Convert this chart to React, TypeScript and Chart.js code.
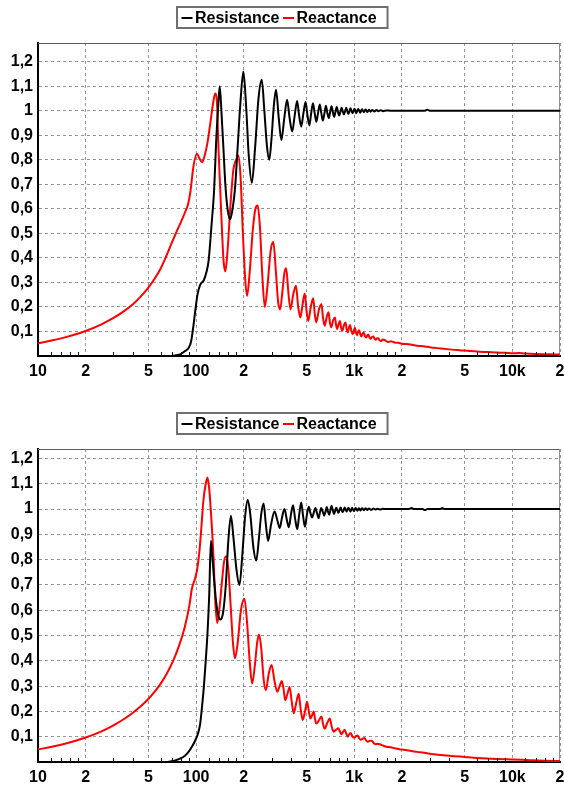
import React, { useEffect, useRef } from 'react';
import { Chart, registerables } from 'chart.js';

Chart.register(...registerables);

const FONT = '"Liberation Sans", Arial, Helvetica, sans-serif';

const seriesNames = ['Resistance', 'Reactance'];
const seriesColors = ['#000000', '#ff0000'];

const yTicks = [0.1, 0.2, 0.3, 0.4, 0.5, 0.6, 0.7, 0.8, 0.9, 1.0, 1.1, 1.2];
const yTickLabels = ['0,1', '0,2', '0,3', '0,4', '0,5', '0,6', '0,7', '0,8', '0,9', '1', '1,1', '1,2'];
const xTickValues = [10, 20, 50, 100, 200, 500, 1000, 2000, 5000, 10000, 20000];
const xTickLabels = ['10', '2', '5', '100', '2', '5', '1k', '2', '5', '10k', '2'];
const xMinorTicks = [
  12, 14, 16, 18, 30, 40, 60, 70, 80, 90,
  120, 140, 160, 180, 300, 400, 600, 700, 800, 900,
  1200, 1400, 1600, 1800, 3000, 4000, 6000, 7000, 8000, 9000,
  12000, 14000, 16000, 18000,
];

// ---------- Panel 1 ----------
const p1ResFreq = [70, 75, 80, 85, 90, 93, 96, 99, 102, 106, 112, 116, 120, 125, 130, 134, 138, 141, 145, 149, 153, 158, 164, 170, 176, 183, 190, 199, 207, 215, 225, 236, 248, 260, 270, 280, 290, 300, 310, 320, 333, 346, 361, 376, 390, 405, 420, 435, 448, 462, 477, 492, 506, 520, 534, 548, 562, 576, 590, 605, 619, 633, 648, 662, 676, 690, 704, 718, 732, 746, 760, 775, 789, 803, 818, 832, 846, 860, 875, 890, 904, 918, 932, 946, 960, 975, 989, 1003, 1017, 1030, 1045, 1060, 1075, 1090, 1105, 1120, 1135, 1150, 1165, 1180, 1195, 1210, 1225, 1240, 1270, 1300, 1340, 1380, 1420, 1470, 1520, 1600, 1700, 2000, 2800, 2900, 3000, 20000];
const p1ResVal = [0, 0.003, 0.008, 0.02, 0.035, 0.06, 0.12, 0.19, 0.25, 0.29, 0.31, 0.34, 0.39, 0.53, 0.68, 0.88, 1.02, 1.1, 0.98, 0.84, 0.7, 0.6, 0.557, 0.6, 0.68, 0.85, 1.02, 1.16, 1.02, 0.82, 0.706, 0.85, 1.05, 1.126, 1.0, 0.86, 0.8, 0.89, 1.02, 1.085, 0.97, 0.88, 0.97, 1.045, 0.97, 0.915, 0.98, 1.04, 0.98, 0.935, 0.99, 1.035, 0.98, 0.94, 0.99, 1.03, 0.99, 0.955, 0.99, 1.025, 0.99, 0.96, 0.99, 1.02, 0.99, 0.97, 0.995, 1.018, 0.995, 0.975, 0.995, 1.015, 0.995, 0.98, 0.997, 1.012, 0.997, 0.985, 0.998, 1.012, 0.998, 0.987, 0.998, 1.01, 0.999, 0.99, 0.999, 1.008, 0.999, 0.99, 1.0, 1.007, 1.0, 0.992, 1.0, 1.006, 1.0, 0.994, 1.0, 1.005, 1.0, 0.995, 1.0, 1.004, 0.996, 1.003, 0.997, 1.003, 0.998, 1.002, 0.998, 1.001, 1.0, 1.0, 1.0, 1.004, 1.0, 1.0];

const p1ReaFreq = [10, 12, 15, 20, 25, 30, 35, 40, 45, 50, 55, 60, 65, 70, 75, 80, 85, 89, 92, 96, 101, 105, 109, 113, 118, 123, 128, 132, 135, 138, 142, 146, 149, 153, 158, 165, 172, 179, 185, 191, 197, 204, 210, 218, 228, 237, 245, 253, 262, 272, 283, 296, 308, 319, 330, 340, 352, 362, 371, 383, 395, 411, 428, 442, 456, 471, 486, 500, 512, 531, 550, 563, 575, 598, 620, 636, 650, 670, 688, 702, 715, 735, 755, 768, 780, 796, 812, 826, 840, 860, 880, 895, 910, 925, 940, 960, 980, 995, 1010, 1025, 1040, 1058, 1075, 1092, 1110, 1130, 1150, 1170, 1190, 1210, 1230, 1250, 1270, 1295, 1320, 1345, 1370, 1395, 1420, 1450, 1480, 1515, 1550, 1600, 1650, 1700, 1800, 1900, 2000, 2200, 2500, 2800, 3000, 3500, 4000, 4500, 5000, 6000, 7000, 8000, 9000, 10000, 11000, 12000, 14000, 17000, 20000];
const p1ReaVal = [0.052, 0.062, 0.077, 0.102, 0.128, 0.155, 0.183, 0.212, 0.245, 0.28, 0.318, 0.36, 0.41, 0.46, 0.505, 0.545, 0.585, 0.62, 0.67, 0.77, 0.825, 0.805, 0.79, 0.815, 0.87, 0.95, 1.03, 1.07, 1.05, 0.87, 0.68, 0.5, 0.39, 0.345, 0.43, 0.62, 0.76, 0.8, 0.817, 0.73, 0.52, 0.32, 0.245, 0.34, 0.51, 0.6, 0.614, 0.53, 0.33, 0.2, 0.29, 0.43, 0.465, 0.35, 0.22, 0.19, 0.27, 0.34, 0.358, 0.26, 0.19, 0.25, 0.286, 0.2, 0.157, 0.21, 0.255, 0.18, 0.143, 0.2, 0.235, 0.17, 0.137, 0.19, 0.211, 0.15, 0.123, 0.16, 0.178, 0.135, 0.117, 0.145, 0.157, 0.125, 0.11, 0.13, 0.143, 0.115, 0.103, 0.125, 0.137, 0.11, 0.096, 0.115, 0.126, 0.1, 0.089, 0.105, 0.115, 0.095, 0.085, 0.1, 0.105, 0.088, 0.08, 0.092, 0.095, 0.08, 0.075, 0.085, 0.087, 0.074, 0.07, 0.078, 0.08, 0.07, 0.066, 0.072, 0.072, 0.063, 0.061, 0.067, 0.066, 0.06, 0.057, 0.06, 0.055, 0.054, 0.05, 0.048, 0.042, 0.039, 0.036, 0.031, 0.027, 0.024, 0.022, 0.018, 0.016, 0.014, 0.013, 0.011, 0.012, 0.01, 0.008, 0.007, 0.006];

// ---------- Panel 2 ----------
const p2ResFreq = [65, 72, 79, 85, 90, 95, 99, 103, 106, 109, 112, 115, 118, 121, 124, 127, 130, 134, 138, 142, 148, 154, 160, 166, 172, 180, 188, 196, 204, 212, 220, 230, 240, 250, 258, 267, 276, 285, 298, 313, 325, 338, 350, 362, 374, 386, 398, 410, 423, 436, 449, 462, 475, 488, 501, 515, 528, 541, 554, 567, 581, 595, 606, 618, 632, 645, 658, 670, 682, 695, 706, 718, 732, 745, 758, 770, 782, 794, 807, 820, 832, 845, 858, 870, 882, 895, 906, 918, 932, 945, 958, 970, 982, 995, 1008, 1020, 1032, 1045, 1058, 1070, 1082, 1095, 1108, 1120, 1135, 1150, 1165, 1180, 1195, 1210, 1225, 1240, 1280, 1320, 1360, 1400, 1450, 1520, 1600, 2200, 2300, 2400, 2700, 2800, 2900, 3500, 3600, 3700, 20000];
const p2ResVal = [0, 0.004, 0.013, 0.025, 0.042, 0.065, 0.087, 0.115, 0.15, 0.22, 0.3, 0.4, 0.51, 0.66, 0.875, 0.8, 0.72, 0.63, 0.58, 0.563, 0.59, 0.7, 0.88, 0.974, 0.89, 0.76, 0.7, 0.82, 0.97, 1.037, 0.98, 0.85, 0.797, 0.89, 0.98, 1.022, 0.94, 0.874, 0.94, 0.99, 0.96, 0.925, 0.97, 1.0, 0.96, 0.928, 0.98, 1.015, 0.96, 0.921, 0.98, 1.026, 0.97, 0.93, 0.975, 1.009, 0.985, 0.967, 0.985, 1.004, 0.985, 0.964, 0.985, 1.004, 0.99, 0.974, 0.99, 1.008, 0.99, 0.978, 0.995, 1.013, 0.995, 0.98, 0.995, 1.005, 0.995, 0.985, 0.996, 1.006, 0.996, 0.988, 0.997, 1.006, 0.997, 0.99, 0.998, 1.005, 0.998, 0.99, 0.998, 1.005, 0.998, 0.992, 0.999, 1.004, 0.999, 0.993, 0.999, 1.003, 0.999, 0.994, 1.0, 1.003, 1.0, 0.995, 1.0, 1.003, 1.0, 0.996, 1.0, 1.002, 0.997, 1.002, 0.998, 1.001, 0.998, 1.001, 1.0, 1.0, 1.004, 1.0, 1.0, 0.996, 1.0, 1.0, 1.004, 1.0, 1.0];

const p2ReaFreq = [10, 12, 15, 20, 25, 30, 35, 40, 45, 50, 55, 60, 65, 72, 78, 85, 91, 94, 99, 102, 105, 108, 111, 115, 118, 121, 124, 129, 132, 136, 140, 146, 150, 155, 160, 166, 171, 176, 183, 192, 202, 210, 218, 226, 235, 243, 250, 258, 267, 276, 288, 300, 313, 326, 337, 348, 357, 366, 378, 390, 402, 414, 430, 445, 458, 472, 488, 503, 516, 528, 541, 554, 565, 575, 598, 620, 635, 650, 675, 700, 720, 740, 768, 795, 812, 830, 850, 870, 890, 910, 930, 950, 975, 1000, 1025, 1050, 1075, 1100, 1130, 1160, 1190, 1220, 1255, 1290, 1325, 1360, 1400, 1450, 1520, 1600, 1700, 1800, 2000, 2500, 3000, 4000, 5000, 6000, 8000, 10000, 13000, 16000, 20000];
const p2ReaVal = [0.05, 0.059, 0.073, 0.097, 0.12, 0.145, 0.17, 0.196, 0.222, 0.25, 0.28, 0.312, 0.348, 0.404, 0.46, 0.537, 0.625, 0.685, 0.73, 0.77, 0.836, 0.93, 1.03, 1.1, 1.125, 1.08, 0.99, 0.8, 0.64, 0.55, 0.6, 0.72, 0.79, 0.813, 0.76, 0.6, 0.47, 0.41, 0.47, 0.6, 0.645, 0.55, 0.4, 0.31, 0.38, 0.47, 0.504, 0.45, 0.33, 0.284, 0.35, 0.384, 0.32, 0.278, 0.3, 0.32, 0.29, 0.244, 0.27, 0.297, 0.24, 0.193, 0.235, 0.27, 0.21, 0.166, 0.2, 0.238, 0.2, 0.172, 0.185, 0.2, 0.17, 0.152, 0.165, 0.18, 0.15, 0.132, 0.155, 0.172, 0.14, 0.12, 0.128, 0.133, 0.12, 0.11, 0.12, 0.128, 0.112, 0.1, 0.11, 0.115, 0.1, 0.096, 0.102, 0.105, 0.093, 0.088, 0.092, 0.095, 0.085, 0.08, 0.084, 0.084, 0.076, 0.07, 0.072, 0.07, 0.065, 0.06, 0.058, 0.054, 0.049, 0.04, 0.033, 0.025, 0.02, 0.016, 0.012, 0.01, 0.007, 0.005, 0.004];

const zip = (xs: number[], ys: number[]) => xs.map((x, i) => ({ x, y: ys[i] }));

const boxLegendPlugin = {
  id: 'boxLegend',
  afterDraw(chart: any) {
    const ctx = chart.ctx as CanvasRenderingContext2D;
    const ds = chart.data.datasets;
    ctx.save();
    ctx.font = `bold 16px ${FONT}`;
    const widths = ds.map((d: any) => ctx.measureText(d.label).width);
    const padL = 4.5, mark = 11, gap = 2.5, sep = 3.5, padR = 11;
    let w = padL + padR + sep * (ds.length - 1);
    widths.forEach((tw: number) => { w += mark + gap + tw; });
    const left = Math.round(282.5 - w / 2);
    const top = 7, h = 21;
    ctx.fillStyle = '#ffffff';
    ctx.fillRect(left, top, w, h);
    ctx.strokeStyle = '#707070';
    ctx.lineWidth = 2;
    ctx.strokeRect(left, top, w, h);
    let x = left + padL;
    ds.forEach((d: any, i: number) => {
      ctx.strokeStyle = d.borderColor;
      ctx.lineWidth = 2;
      ctx.beginPath();
      ctx.moveTo(x, 18);
      ctx.lineTo(x + mark, 18);
      ctx.stroke();
      x += mark + gap;
      ctx.fillStyle = '#000000';
      ctx.textAlign = 'left';
      ctx.textBaseline = 'middle';
      ctx.fillText(d.label, x, 18.5);
      x += widths[i] + sep;
    });
    ctx.restore();
  },
};

const framePlugin = {
  id: 'frame',
  beforeDatasetsDraw(chart: any) {
    const { ctx, chartArea } = chart;
    ctx.save();
    ctx.lineWidth = 1;
    ctx.strokeStyle = '#606060';
    ctx.beginPath();
    ctx.moveTo(chartArea.left, Math.round(chartArea.top) + 0.5);
    ctx.lineTo(chartArea.right, Math.round(chartArea.top) + 0.5);
    ctx.stroke();
    ctx.strokeStyle = '#909090';
    ctx.beginPath();
    ctx.moveTo(Math.round(chartArea.right) - 0.5, chartArea.top);
    ctx.lineTo(Math.round(chartArea.right) - 0.5, chartArea.bottom);
    ctx.stroke();
    ctx.restore();
  },
  afterDraw(chart: any) {
    const { ctx, chartArea } = chart;
    const xs = chart.scales.x;
    ctx.save();
    ctx.strokeStyle = '#000000';
    ctx.lineWidth = 1;
    xMinorTicks.forEach((v) => {
      const px = Math.round(xs.getPixelForValue(v)) + 0.5;
      ctx.beginPath();
      ctx.moveTo(px, chartArea.bottom - 1);
      ctx.lineTo(px, chartArea.bottom - 4);
      ctx.stroke();
    });
    ctx.restore();
  },
};

function Panel(props: { top: number; resF: number[]; resV: number[]; reaF: number[]; reaV: number[] }) {
  const ref = useRef<HTMLCanvasElement>(null);
  useEffect(() => {
    const { resF, resV, reaF, reaV } = props;
    const yMax = 1.1 * Math.max(...resV, ...reaV);
    const tickFont = { family: FONT, size: 16, weight: 'bold' as const };
    const chart = new Chart(ref.current as HTMLCanvasElement, {
      type: 'line',
      data: {
        datasets: [
          {
            label: seriesNames[0],
            data: zip(resF, resV),
            borderColor: seriesColors[0],
            backgroundColor: seriesColors[0],
            borderWidth: 2,
            pointRadius: 0,
            cubicInterpolationMode: 'monotone',
          },
          {
            label: seriesNames[1],
            data: zip(reaF, reaV),
            borderColor: seriesColors[1],
            backgroundColor: seriesColors[1],
            borderWidth: 2,
            pointRadius: 0,
            cubicInterpolationMode: 'monotone',
          },
        ],
      },
      options: {
        responsive: false,
        animation: false,
        devicePixelRatio: 1,
        events: [],
        layout: { padding: { top: 43, right: 4, left: 0, bottom: 0 } },
        plugins: {
          legend: { display: false },
          tooltip: { enabled: false },
        },
        scales: {
          x: {
            type: 'logarithmic',
            min: 10,
            max: 20000,
            afterBuildTicks: (s: any) => {
              s.ticks = xTickValues.map((v) => ({ value: v }));
            },
            afterFit: (s: any) => {
              s.height = 23;
              s.paddingLeft = 0;
              s.paddingRight = 0;
            },
            ticks: {
              autoSkip: false,
              maxRotation: 0,
              minRotation: 0,
              padding: 6,
              color: '#000000',
              font: tickFont,
              callback: (_v: any, i: number) => xTickLabels[i],
            },
            grid: { color: '#959595', lineWidth: 1, drawTicks: false },
            border: { display: true, color: '#000000', width: 2, dash: [3, 3] },
          },
          y: {
            type: 'linear',
            min: 0,
            max: yMax,
            afterBuildTicks: (s: any) => {
              s.ticks = yTicks.map((v) => ({ value: v }));
            },
            afterFit: (s: any) => {
              s.width = 38;
              s.paddingTop = 0;
              s.paddingBottom = 0;
            },
            ticks: {
              padding: 5,
              color: '#000000',
              font: tickFont,
              callback: (_v: any, i: number) => yTickLabels[i],
            },
            grid: { color: '#959595', lineWidth: 1, drawTicks: false },
            border: { display: true, color: '#000000', width: 2, dash: [3, 3] },
          },
        },
      } as any,
      plugins: [framePlugin, boxLegendPlugin],
    });
    return () => chart.destroy();
  }, []);
  return (
    <canvas
      ref={ref}
      width={564}
      height={379}
      style={{ position: 'absolute', left: 0, top: props.top, width: 564, height: 379 }}
    />
  );
}

export default function App() {
  return (
    <div style={{ position: 'absolute', left: 0, top: 0, width: 564, height: 785, background: '#ffffff', overflow: 'hidden' }}>
      <Panel top={0} resF={p1ResFreq} resV={p1ResVal} reaF={p1ReaFreq} reaV={p1ReaVal} />
      <Panel top={406} resF={p2ResFreq} resV={p2ResVal} reaF={p2ReaFreq} reaV={p2ReaVal} />
    </div>
  );
}
